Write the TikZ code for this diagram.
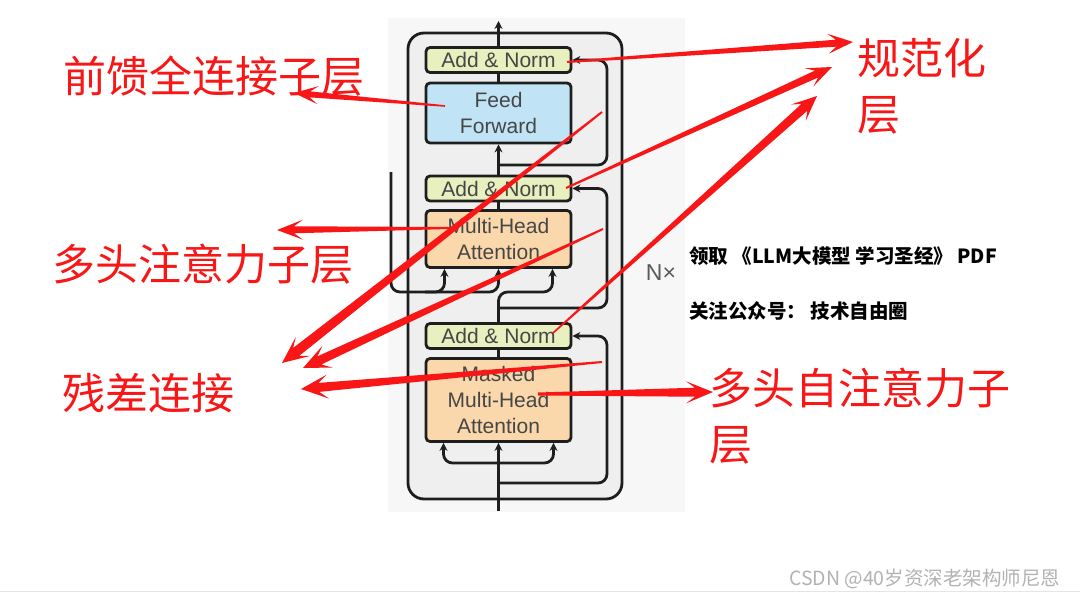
\documentclass[tikz,border=0pt]{standalone}
\usepackage{fontspec}
\usetikzlibrary{arrows.meta,calc}
\newfontfamily\cjk{Noto Sans CJK SC}
\newfontfamily\arialf{Liberation Sans}
\definecolor{annred}{RGB}{248,22,22}
\definecolor{anfill}{RGB}{232,240,192}
\definecolor{fffill}{RGB}{192,228,246}
\definecolor{attfill}{RGB}{250,216,172}
\definecolor{boxline}{RGB}{30,30,30}
\definecolor{boxtext}{RGB}{70,70,70}
\definecolor{bgout}{RGB}{247,247,247}
\definecolor{bgin}{RGB}{239,239,239}
% tapering red arrow: start, tip, start half width, shaft half width, join dist, barb dist, head half width
\newcommand\taper[7]{%
  \coordinate (tpj) at ($(#2)!#5!(#1)$);
  \coordinate (tpb) at ($(#2)!#6!(#1)$);
  \fill[annred] ($(#1)!#3!90:(#2)$) -- ($(tpj)!#4!90:(#2)$) -- ($(tpb)!#7!90:(#2)$) -- (#2)
     -- ($(tpb)!#7!-90:(#2)$) -- ($(tpj)!#4!-90:(#2)$) -- ($(#1)!#3!-90:(#2)$) -- cycle;
}
\begin{document}
\begin{tikzpicture}[x=1pt,y=-1pt,
  box/.style={draw=boxline, line width=2.8pt, rounded corners=4pt, minimum width=145pt,
    inner sep=0pt, text=boxtext, font=\arialf\fontsize{21}{26}\selectfont, align=center},
  anbox/.style={box, fill=anfill, minimum height=25pt},
  conn/.style={draw=boxline, line width=2.8pt, rounded corners=9pt},
  arr/.style={-{Stealth[length=8pt,width=8pt]}},
  redtxt/.style={text=annred, font=\cjk\fontsize{43}{56}\selectfont, inner sep=0pt},
  blk/.style={anchor=west, inner sep=0pt, text=black, font=\cjk\bfseries\fontsize{19.5}{24}\selectfont},
]
\fill[white] (0,0) rectangle (1080,597);
\useasboundingbox (0,0) rectangle (1080,597);
\draw[gray!20, line width=1pt] (0,591) -- (1080,591);
% diagram background
\fill[bgout] (388,18) rectangle (685,512);
\draw[conn, fill=bgin, rounded corners=16pt] (408,33) rectangle (622,499);

% boxes
\node[anbox] (an1) at (498.5,60) {Add \& Norm};
\node[box, fill=fffill, minimum height=60pt] (ff) at (498.5,113) {Feed\\Forward};
\node[anbox] (an2) at (498.5,188.5) {Add \& Norm};
\node[box, fill=attfill, minimum height=57pt] (mha) at (498.5,239) {Multi-Head\\Attention};
\node[anbox] (an3) at (498.5,336) {Add \& Norm};
\node[box, fill=attfill, minimum height=83pt] (mmha) at (498.5,400) {Masked\\Multi-Head\\Attention};

\coordinate (outtop) at (498.5,21);
\coordinate (inbot) at (498.5,511);
\coordinate (enc) at (391,172);
\coordinate (mhL) at ($(mha.south)+(-54,0)$);
\coordinate (mhR) at ($(mha.south)+(54,0)$);
\coordinate (mmL) at ($(mmha.south)+(-55,0)$);
\coordinate (mmR) at ($(mmha.south)+(55,0)$);

% main connectors
\draw[conn,arr] (an1.north) -- (outtop);
\draw[conn] (ff.north) -- (an1.south);
\draw[conn,arr] (an2.north) -- (ff.south);
\draw[conn] (mha.north) -- (an2.south);
\draw[conn] (mmha.north) -- (an3.south);
\draw[conn,arr] (inbot) -- (mmha.south);
% residual loops
\draw[conn,arr] (498.5,165) -- (607,165) -- (607,60) -- (an1.east);
\draw[conn,arr] (498.5,308) -- (607,308) -- (607,188.5) -- (an2.east);
\draw[conn,arr] (498.5,483) -- (607,483) -- (607,336) -- (an3.east);
% masked attention inputs
\draw[conn,arr] (498.5,463) -- (443.5,463) -- (mmL);
\draw[conn,arr] (498.5,463) -- (553.5,463) -- (mmR);
% cross attention inputs
\draw[conn,arr] (enc) -- (391,292) -- (498.5,292) -- (mha.south);
\draw[conn,arr] (425,292) -- (444.5,292) -- (mhL);
\draw[conn,arr] (an3.north) -- (498.5,292) -- (552.5,292) -- (mhR);

\node[text={rgb,255:red,90;green,90;blue,90}, font=\arialf\fontsize{23}{26}\selectfont] (nx) at (661,273) {N×};

% red labels
\node[redtxt, anchor=west] (t1) at (63,76) {前馈全连接子层};
\node[redtxt, anchor=north west, align=left] (t2) at (857,38) {规范化\\层};
\node[redtxt, anchor=west] (t3) at (52,264) {多头注意力子层};
\node[redtxt, anchor=west] (t4) at (62,393) {残差连接};
\node[redtxt, anchor=north west, align=left] (t5) at (709,368) {多头自注意力子\\层};

% black notes
\node[blk] (p1) at (689,256) {领取 《LLM大模型 学习圣经》 PDF};
\node[blk] (p2) at (689,311) {关注公众号： 技术自由圈};
\node[anchor=west, inner sep=0pt, text=gray!60, font=\cjk\fontsize{19.5}{22}\selectfont] (csdn) at (789,579) {CSDN @40岁资深老架构师尼恩};

% red arrows
\coordinate (s1) at (567,62);  \coordinate (e1) at (853,42);
\coordinate (s2) at (566,188); \coordinate (e2) at (832,67);
\coordinate (s3) at (553,333); \coordinate (e3) at (817,96);
\coordinate (s4) at (445,106); \coordinate (e4) at (294,93);
\coordinate (s5) at (449,228); \coordinate (e5) at (277,230);
\coordinate (s6) at (602,112); \coordinate (e6) at (282,363);
\coordinate (s7) at (603,229); \coordinate (e7) at (303,368);
\coordinate (s8) at (602,362); \coordinate (e8) at (301,389);
\coordinate (s9) at (538,394); \coordinate (e9) at (713,392);
\taper{s1}{e1}{1pt}{3.5pt}{17pt}{25pt}{10pt}
\taper{s2}{e2}{1pt}{3.8pt}{17pt}{25pt}{10pt}
\taper{s3}{e3}{0.8pt}{4.5pt}{17pt}{25pt}{11pt}
\taper{s4}{e4}{0.8pt}{3pt}{16pt}{24pt}{9pt}
\taper{s5}{e5}{1pt}{3.5pt}{17pt}{26pt}{10pt}
\taper{s6}{e6}{1pt}{5pt}{18pt}{27pt}{12pt}
\taper{s7}{e7}{1pt}{4.5pt}{18pt}{27pt}{12pt}
\taper{s8}{e8}{1pt}{4.5pt}{18pt}{27pt}{12pt}
\taper{s9}{e9}{1.5pt}{4.5pt}{18pt}{27pt}{11pt}
\end{tikzpicture}
\end{document}
